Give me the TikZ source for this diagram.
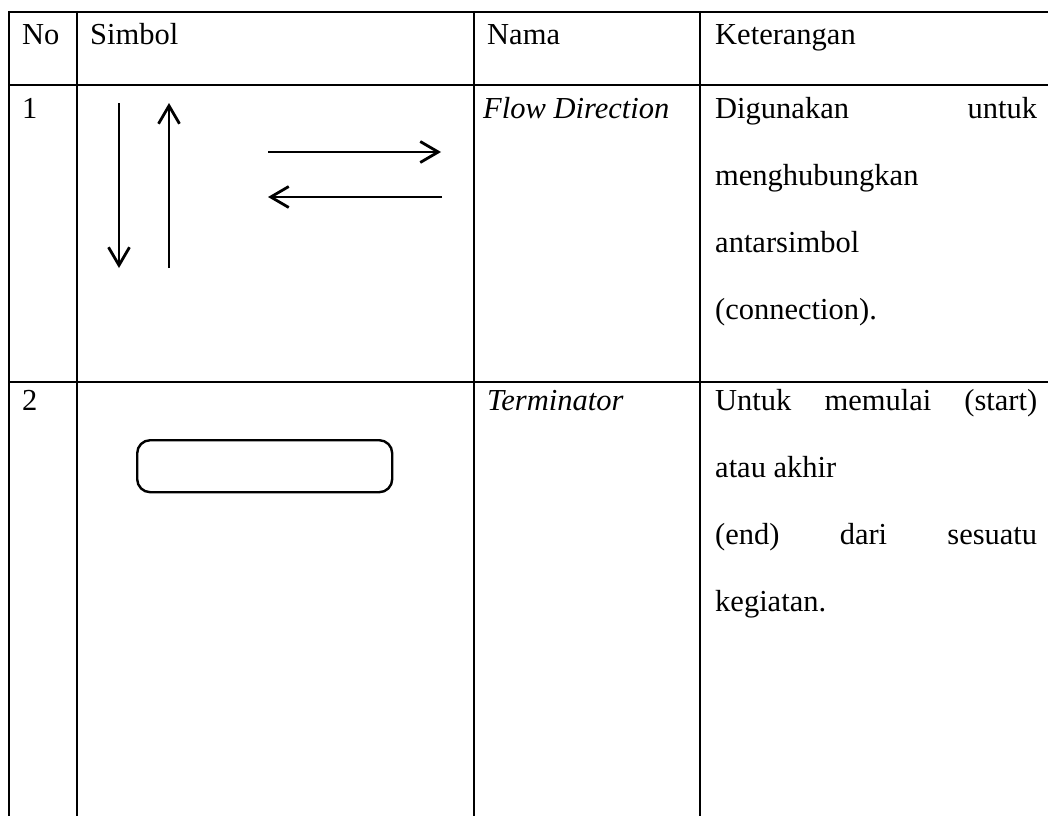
\documentclass[tikz,border=0pt]{standalone}
\usepackage{fontspec}
\setmainfont{Liberation Serif}
\usetikzlibrary{arrows.meta}
\begin{document}
\begin{tikzpicture}[x=1pt,y=-1pt,
  rule/.style={line width=2pt},
  txt/.style={anchor=base west,inner sep=0pt,font=\fontsize{30.5}{36}\selectfont},
  flow/.style={line width=2.8pt,-{Straight Barb[length=18pt,width=21pt,line width=2.8pt]}},
  termbox/.style={draw,line width=2.4pt,rounded corners=13pt}]
\useasboundingbox (0,0) rectangle (1048,816);
% table rules
\draw[rule] (9,12) -- (1048,12);
\draw[rule] (9,85) -- (1048,85);
\draw[rule] (9,382) -- (1048,382);
\draw[rule] (9,11) -- (9,816);
\draw[rule] (77,11) -- (77,816);
\draw[rule] (474,11) -- (474,816);
\draw[rule] (700,11) -- (700,816);
% header
\node[txt] (hno) at (22,45) {No};
\node[txt] (hsim) at (90,45) {Simbol};
\node[txt] (hnama) at (487,45) {Nama};
\node[txt] (hket) at (715,45) {Keterangan};
% row 1
\node[txt] (n1) at (22,118) {1};
\node[txt] (nm1) at (483,118) {\itshape Flow Direction};
\node[txt] (k1a) at (715,118) {\makebox[322pt][s]{Digunakan\hfill untuk}};
\node[txt] (k1b) at (715,185) {menghubungkan};
\node[txt] (k1c) at (715,252) {antarsimbol};
\node[txt] (k1d) at (715,319) {(connection).};
% arrows
\coordinate (d1) at (119,103); \coordinate (d2) at (119,268);
\coordinate (u1) at (169,268); \coordinate (u2) at (169,103);
\coordinate (r1) at (268,152); \coordinate (r2) at (441,152);
\coordinate (l1) at (442,197); \coordinate (l2) at (268,197);
\draw[flow] (d1) -- (d2);
\draw[flow] (u1) -- (u2);
\draw[flow] (r1) -- (r2);
\draw[flow] (l1) -- (l2);
% row 2
\node[txt] (n2) at (22,410) {2};
\node[txt] (nm2) at (487,410) {\itshape Terminator};
\node[txt] (k2a) at (715,410) {\makebox[322pt][s]{Untuk\hfill memulai\hfill (start)}};
\node[txt] (k2b) at (715,477) {atau akhir};
\node[txt] (k2c) at (715,544) {\makebox[322pt][s]{(end)\hfill dari\hfill sesuatu}};
\node[txt] (k2d) at (715,611) {kegiatan.};
\node[termbox,minimum width=255pt,minimum height=52pt,anchor=north west,inner sep=0pt] (term) at (136,439) {};
\end{tikzpicture}
\end{document}
